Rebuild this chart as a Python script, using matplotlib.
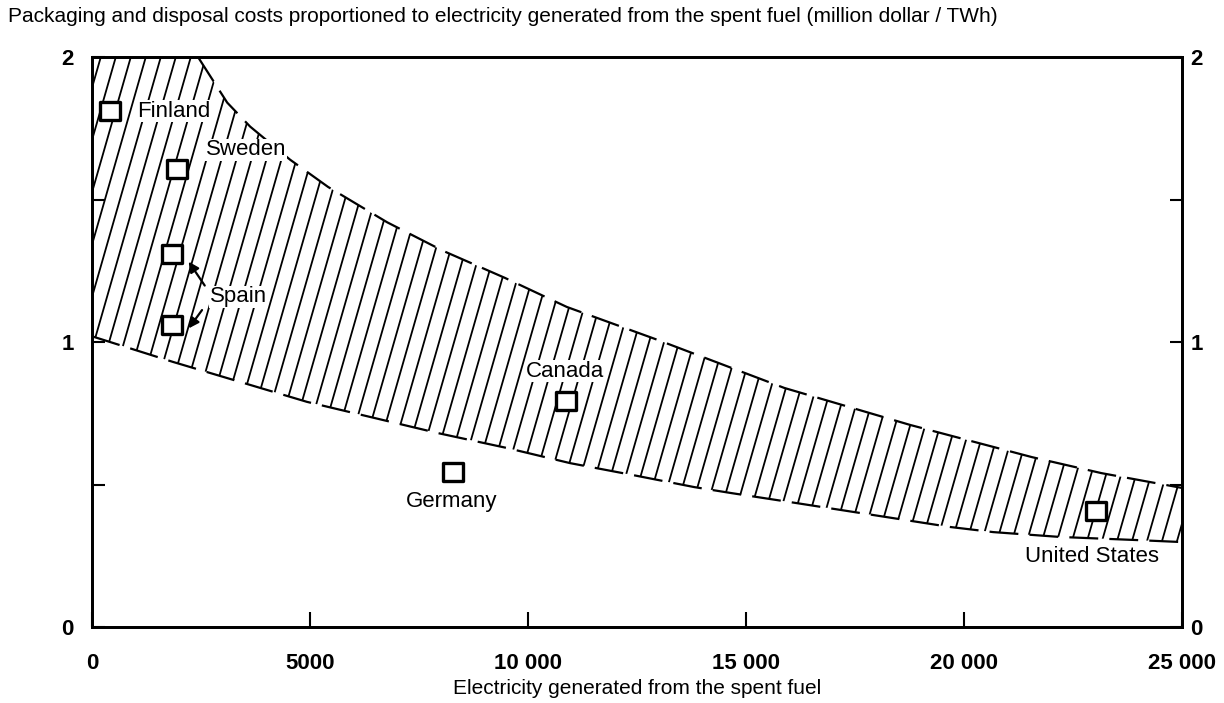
import numpy as np
import matplotlib.pyplot as plt
from matplotlib.collections import LineCollection
from matplotlib.path import Path

plt.rcParams['font.family'] = ['Liberation Sans', 'DejaVu Sans']

title = ("Packaging and disposal costs proportioned to electricity generated "
         "from the spent fuel (million dollar / TWh)")
xlabel = "Electricity generated from the spent fuel"

# Band boundaries
upper_x = [2430, 3100, 3625, 4540, 5415, 6770, 8050, 9470, 10890, 12980,
           15875, 18765, 21560, 23150, 25000]
upper_y = [2.0, 1.84, 1.756, 1.64, 1.544, 1.42, 1.32, 1.225, 1.123, 1.007,
           0.839, 0.709, 0.596, 0.54, 0.488]
lower_x = [0, 1860, 3395, 4930, 6380, 7915, 9520, 10965, 12410, 13810,
           14660, 16150, 19680, 20670, 22200, 23970, 25000]
lower_y = [1.02, 0.93, 0.86, 0.79, 0.737, 0.681, 0.628, 0.575, 0.533, 0.491,
           0.47, 0.435, 0.351, 0.333, 0.316, 0.305, 0.298]

# Country points
countries = ["Finland", "Sweden", "Spain", "Spain", "Canada", "Germany", "United States"]
country_x = [413, 1950, 1835, 1835, 10875, 8280, 23030]
country_y = [1.81, 1.607, 1.309, 1.06, 0.793, 0.544, 0.407]

xticks = [0, 5000, 10000, 15000, 20000, 25000]
xticklabels = ["0", "5000", "10 000", "15 000", "20 000", "25 000"]
yticks = [0, 1, 2]
yticklabels = ["0", "1", "2"]

fig = plt.figure(figsize=(12.24, 7.03), dpi=100)
ax = fig.add_axes([0.0752, 0.1081, 0.8905, 0.8108])
ax.set_xlim(0, 25000)
ax.set_ylim(0, 2)

# Band
grid = np.linspace(0, 25000, 600)
top = np.interp(grid, upper_x, upper_y, left=2.0)
bot = np.interp(grid, lower_x, lower_y)
band = ax.fill_between(grid, bot, top, facecolor='none', edgecolor='none', zorder=1)
clip_path = band.get_paths()[0]

# Steep hatch lines clipped to the band
ang = np.deg2rad(74)
dx = (1.0 / np.tan(ang)) * (0.8108 * 7.03) / (0.8905 * 12.24)
step = 15.0 / (0.8905 * 1224)
starts = np.arange(-dx - 0.05, 1.05, step)
segs = [[(s, -0.02), (s + dx * 1.04, 1.02)] for s in starts]
lc = LineCollection(segs, colors='black', linewidths=1.3, transform=ax.transAxes, zorder=2)
ax.add_collection(lc)
lc.set_clip_path(clip_path, ax.transData)

ax.plot(upper_x, upper_y, color='black', lw=1.6, linestyle=(0, (13, 5)), zorder=3)
ax.plot(lower_x, lower_y, color='black', lw=1.6, linestyle=(0, (13, 5)), zorder=3)

# Markers
rect = Path([(-1.15, -1), (1.15, -1), (1.15, 1), (-1.15, 1), (-1.15, -1)],
            [Path.MOVETO, Path.LINETO, Path.LINETO, Path.LINETO, Path.CLOSEPOLY])
ax.plot(country_x, country_y, linestyle='none', marker=rect, markersize=15,
        markerfacecolor='white', markeredgecolor='black', markeredgewidth=2.4, zorder=5)

lab_fs = 16
wb = dict(facecolor='white', edgecolor='none', pad=0.5)
ax.text(1030, 1.81, "Finland", fontsize=lab_fs, ha='left', va='center', zorder=6, bbox=wb)
ax.text(2615, 1.674, "Sweden", fontsize=lab_fs, ha='left', va='center', zorder=6, bbox=wb)
ax.text(2707, 1.158, "Spain", fontsize=lab_fs, ha='left', va='center', zorder=6, bbox=wb)
ax.text(10850, 0.898, "Canada", fontsize=lab_fs, ha='center', va='center', zorder=6, bbox=wb)
ax.text(8240, 0.439, "Germany", fontsize=lab_fs, ha='center', va='center', zorder=6)
ax.text(22940, 0.246, "United States", fontsize=lab_fs, ha='center', va='center', zorder=6)

arrow_kw = dict(arrowstyle='-|>', color='black', lw=1.6, mutation_scale=15)
ax.annotate("", xy=(2180, 1.29), xytext=(2620, 1.19), arrowprops=arrow_kw, zorder=6)
ax.annotate("", xy=(2180, 1.04), xytext=(2560, 1.12), arrowprops=arrow_kw, zorder=6)

# Axes styling
for sp in ax.spines.values():
    sp.set_linewidth(2.0)
ax.set_xticks(xticks)
ax.set_xticklabels(xticklabels)
ax.set_yticks(yticks)
ax.set_yticklabels(yticklabels)
ax.set_yticks([0.5, 1.5], minor=True)
ax.tick_params(axis='x', which='major', direction='in', length=11, width=1.5,
               pad=19, labelsize=16)
ax.tick_params(axis='y', which='both', direction='in', length=9, width=1.5,
               pad=13, labelsize=16)
for lbl in ax.get_xticklabels() + ax.get_yticklabels():
    lbl.set_fontweight('bold')

ax2 = ax.twinx()
ax2.set_ylim(0, 2)
ax2.set_yticks(yticks)
ax2.set_yticklabels(yticklabels)
ax2.set_yticks([0.5, 1.5], minor=True)
ax2.tick_params(axis='y', which='both', direction='in', length=9, width=1.5,
                pad=6, labelsize=16)
for lbl in ax2.get_yticklabels():
    lbl.set_fontweight('bold')
for sp in ax2.spines.values():
    sp.set_linewidth(2.0)

ax.set_xlabel(xlabel, fontsize=15, labelpad=3)
fig.text(0.0065, 0.976, title, fontsize=15, ha='left', va='center')

fig.savefig("out.png", dpi=100)
